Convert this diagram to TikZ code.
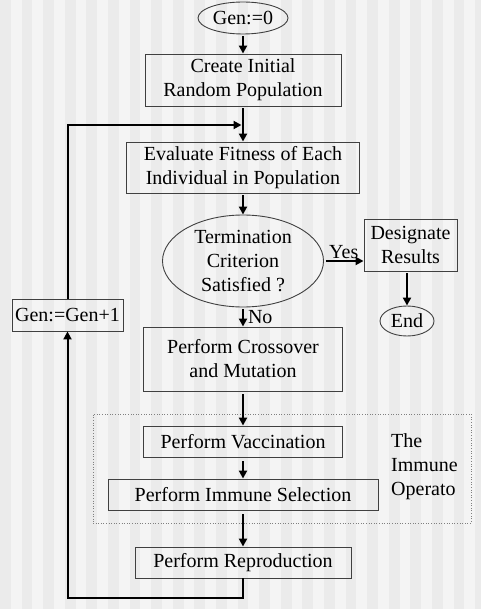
\documentclass[tikz,border=0pt]{standalone}
\usepackage{fontspec}
\setmainfont{Liberation Serif}
\usetikzlibrary{arrows.meta,shapes.geometric}
\definecolor{stripedark}{HTML}{EBEBEB}
\definecolor{stripelight}{HTML}{F4F4F4}
\definecolor{boxline}{HTML}{404040}
\begin{document}
\begin{tikzpicture}[x=1pt,y=-1pt,
    every node/.style={font=\fontsize{20}{24}\selectfont, inner sep=0pt, align=center},
    box/.style={draw=boxline, line width=0.9pt, rectangle},
    oval/.style={draw=boxline, line width=0.9pt, ellipse},
    arr/.style={line width=2pt, -{Triangle[length=8pt,width=8pt]}, shorten <=2pt}]
    % background stripes
    \useasboundingbox (0,0) rectangle (481,609);
    \fill[stripedark] (0,0) rectangle (481,609);
    \foreach \i in {0,...,22}
        \fill[stripelight] (\i*21.6+10.8,0) rectangle ++(10.8,609);
    % main column
    \node[oval, minimum width=90, minimum height=32] (gen0) at (243,18) {Gen:=0};
    \node[box, minimum width=196, minimum height=52] (create) at (243,80) {Create Initial\\Random Population};
    \node[box, minimum width=233, minimum height=51] (eval) at (243,167.5) {Evaluate Fitness of Each\\Individual in Population};
    \node[oval, minimum width=161, minimum height=92] (term) at (243,261) {Termination\\Criterion\\Satisfied ?};
    \node[box, minimum width=93, minimum height=52] (desig) at (410.5,245) {Designate\\Results};
    \node[oval, minimum width=54, minimum height=30] (end) at (407,321) {End};
    \node[box, minimum width=199, minimum height=64] (cross) at (243,359) {Perform Crossover\\and Mutation};
    % immune operator
    \node[draw=gray, dotted, line width=0.6pt, minimum width=378, minimum height=109] (immune) at (282,468.5) {};
    \node[anchor=west, align=left] (immunetxt) at (391,467) {The\\Immune\\Operato};
    \node[box, minimum width=199, minimum height=31] (vacc) at (243,441.5) {Perform Vaccination};
    \node[box, minimum width=270, minimum height=31] (sel) at (243,494.5) {Perform Immune Selection};
    \node[box, minimum width=216, minimum height=31] (repro) at (243,562.5) {Perform Reproduction};
    % loop counter
    \node[box, minimum width=111, minimum height=32] (genp) at (67.5,315) {Gen:=Gen+1};
    \coordinate (join) at (243,125);

    \draw[arr] (gen0) -- (create);
    \draw[arr] (create) -- (eval);
    \draw[arr] (eval) -- (term);
    \draw[arr] (term.east) -- (term.east -| desig.west) node[midway, above=1pt] (yes) {Yes};
    \draw[arr] (desig.south -| end) -- (end);
    \draw[arr] (term) -- (cross) node[midway, right=4pt] (no) {No};
    \draw[arr, shorten <=3pt] (cross) -- (vacc);
    \draw[arr, shorten <=4pt] (vacc) -- (sel);
    \draw[arr, shorten <=4pt] (sel) -- (repro);
    \draw[arr, shorten <=0pt] (repro.south) -- ++(0,20) -| (genp.south);
    \draw[arr, shorten <=0pt, shorten >=1.5pt] (genp.north) |- (join);
\end{tikzpicture}
\end{document}
